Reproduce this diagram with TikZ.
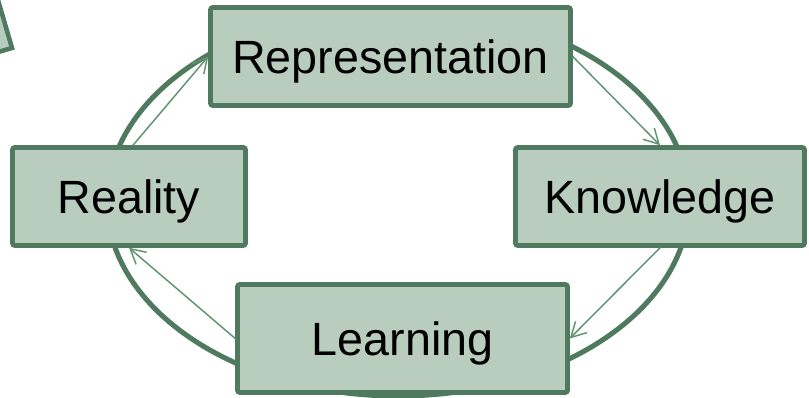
\documentclass[tikz,border=0pt]{standalone}
\usepackage{fontspec}
\setmainfont{Liberation Sans}
\usetikzlibrary{arrows.meta}
\definecolor{boxfill}{HTML}{B9CDBF}
\definecolor{boxline}{HTML}{4F7A5F}
\definecolor{thinline}{HTML}{5E9470}
\tikzset{
  box/.style={draw=boxline, fill=boxfill, line width=3.4pt, rounded corners=1.5pt,
    minimum height=73.5pt, inner sep=0pt, text depth=0pt, font=\fontsize{35}{40}\selectfont, text=black},
  cycleline/.style={draw=boxline, line width=3.8pt},
  flow/.style={draw=thinline, line width=1.1pt, -{Straight Barb[length=11pt,width=12pt,line width=1.1pt]}}
}
\begin{document}
\begin{tikzpicture}[x=0.75pt,y=-0.75pt]
\clip (0,0) rectangle (809,398);
\fill[white] (0,0) rectangle (809,398);
% partial rotated box at top-left
\filldraw[draw=boxline, fill=boxfill, line width=3.4pt]
  (12,48) -- ++(-56,-192) -- ++(-192,56) -- ++(56,192) -- cycle;
% cycle ellipse
\draw[cycleline] (398,202) ellipse [x radius=291, y radius=194];
% boxes
\node[box, minimum width=270pt] (rep) at (390.5,56.5) {Representation};
\node[box, minimum width=174.75pt] (real) at (129,196.5) {Reality};
\node[box, minimum width=216.75pt] (know) at (660,196.5) {Knowledge};
\node[box, minimum width=247.5pt, minimum height=81pt] (learn) at (402.5,338.5) {Learning};
% flow arrows
\draw[flow] ([xshift=3pt]real.north) -- (rep.west);
\draw[flow] (rep.east) -- (know.north);
\draw[flow] (know.south) -- (learn.east);
\draw[flow] (learn.west) -- (real.south);
\end{tikzpicture}
\end{document}
